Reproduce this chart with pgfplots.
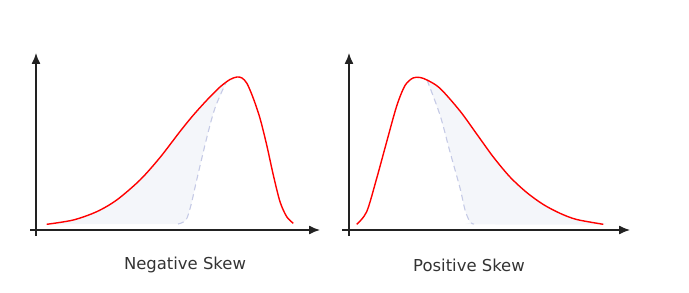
\documentclass[border=0pt]{standalone}
\usepackage{pgfplots}
\pgfplotsset{compat=1.18}
\usepackage{fontspec}
\setmainfont{DejaVu Sans}
\usetikzlibrary{arrows.meta}
\definecolor{fillc}{HTML}{F4F6FA}
\definecolor{dashc}{HTML}{C5CAE6}
\definecolor{axc}{HTML}{222222}
\definecolor{txtc}{HTML}{333333}
\begin{document}
\begin{tikzpicture}
\useasboundingbox (0bp,0bp) rectangle (689bp,293bp);
\pgfplotsset{skew/.style={axis lines=middle, scale only axis, ticks=none, clip=false,
  axis line style={line width=1.3bp, color=axc, -{Latex[length=11bp,width=9bp]}},
  anchor=origin, ymin=-6, ymax=177, height=183bp}}
% Negative skew
\begin{axis}[skew, at={(36bp,63bp)}, xmin=-6, xmax=284, width=290bp]
\addplot[draw=none, fill=fillc, smooth] coordinates {
(10.7,5.7) (37.3,10) (60.7,18.3) (80.7,30) (104,50) (124,72.5) (144,98.5) (157,114.5) (171,130) (184,143) (190,147.5)
(179,122) (170.7,92) (160.7,50) (155,25) (150,10) (142,6)} -- cycle;
\addplot[dashc, line width=1.1bp, dash pattern=on 6bp off 4bp, smooth] coordinates {
(142,6) (150,10) (155,25) (160.7,50) (170.7,92) (179,122) (190,147.5)};
\addplot[red, line width=1.4bp, smooth] coordinates {
(10.7,5.7) (37.3,10) (60.7,18.3) (80.7,30) (104,50) (124,72.5) (144,98.5) (157,114.5) (171,130) (184,143) (194,150.5) (201,153) (206,152) (211,146.5) (217.3,131.7) (224,111.7) (230.7,85) (237.3,55) (244,28.3) (250.7,13.3) (257.3,6.7)};
\node[text=txtc, font=\fontsize{16.5}{20}\selectfont] at (axis cs:149,-35) {Negative Skew};
\end{axis}
% Positive skew
\begin{axis}[skew, at={(349bp,63bp)}, xmin=-7, xmax=281, width=288bp]
\addplot[draw=none, fill=fillc, smooth] coordinates {
(78,150) (91,141.7) (111,119) (127.7,96) (144.3,73) (161,53) (177.7,37.5) (194.3,25.5) (211,16.7) (227.7,10.5) (254.3,5.7)
(125,5.7) (121,8) (116,20) (111,42) (101,78) (91,115)} -- cycle;
\addplot[dashc, line width=1.1bp, dash pattern=on 6bp off 4bp, smooth] coordinates {
(78,150) (91,115) (101,78) (111,42) (116,20) (121,8) (125,6)};
\addplot[red, line width=1.4bp, smooth] coordinates {
(7.7,5.7) (17.7,18.3) (27.7,51.7) (37.7,88.3) (47.7,124) (56,144.5) (64,152) (71,152.5) (78,150) (91,141.7) (111,119) (127.7,96) (144.3,73) (161,53) (177.7,37.5) (194.3,25.5) (211,16.7) (227.7,10.5) (254.3,5.7)};
\node[text=txtc, font=\fontsize{16.5}{20}\selectfont] at (axis cs:120,-35) {Positive Skew};
\end{axis}
\end{tikzpicture}
\end{document}
